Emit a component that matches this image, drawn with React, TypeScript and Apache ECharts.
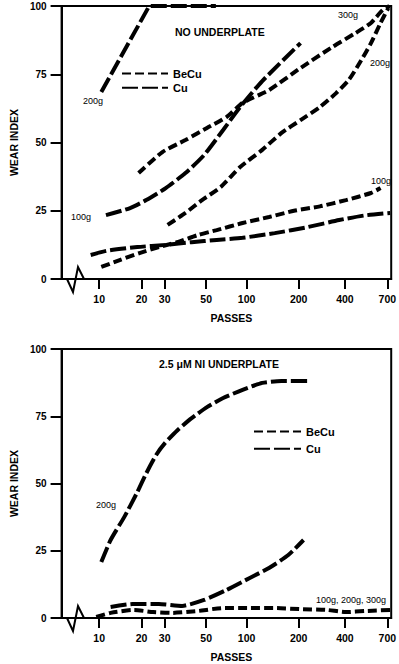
import React, { useEffect, useRef } from "react";
import * as echarts from "echarts";

// x-axis: drawn tick marks (passes) and their place on the drawn scale (scale units)
const TICK_PASSES = [10, 20, 30, 50, 100, 200, 400, 700];
const TICK_SCALE = [39, 83, 107, 150, 192, 246, 294, 338];
const SCALE_MIN = 0;
const SCALE_MAX = 342;
const Y_TICKS = [0, 25, 50, 75, 100];

// ---- top chart: NO UNDERPLATE ----
const TOP_CU_200G_PASSES = [10.5, 23.3, 62];
const TOP_CU_200G_WEAR = [68.5, 100, 100];
const TOP_CU_100G_PASSES = [11.6, 17.3, 22, 30.5, 40, 49, 71, 92, 130, 208];
const TOP_CU_100G_WEAR = [23.4, 26, 28.9, 33.3, 38.8, 45.4, 54.6, 63, 72.5, 86.4];
const TOP_CU_LOW_PASSES = [8, 12, 19, 30.5, 43, 63, 95, 154, 238, 375, 543, 720];
const TOP_CU_LOW_WEAR = [8.8, 10.4, 11.7, 12.5, 13.5, 14.3, 15.1, 16.8, 19, 21.6, 23.3, 24.2];
const TOP_BECU_300G_PASSES = [19.3, 29, 40, 51, 75, 95, 143, 208, 346, 475, 584, 666, 714];
const TOP_BECU_300G_WEAR = [38.8, 46.5, 50.9, 55.3, 59.3, 64.5, 69.2, 77.3, 85, 90.1, 93.8, 98.5, 100];
const TOP_BECU_200G_PASSES = [31.4, 40, 48, 68, 92, 130, 167, 208, 292, 362, 427, 516, 584, 652, 707];
const TOP_BECU_200G_WEAR = [19.8, 24.2, 28.9, 33.7, 41, 47.3, 53.5, 58.2, 63, 68.1, 72.9, 80.2, 86.4, 93.8, 99.3];
const TOP_BECU_100G_PASSES = [10.5, 15, 19.5, 27.5, 36.5, 46, 63, 95, 143, 191, 292, 407, 584, 652];
const TOP_BECU_100G_WEAR = [4.4, 7, 9.5, 11.7, 13.6, 16.1, 17.9, 20.5, 22.7, 25, 26.6, 28.9, 31.5, 33.3];

// ---- bottom chart: 2.5 μM NI UNDERPLATE ----
const BOT_CU_200G_PASSES = [10.5, 12.7, 15.9, 18.9, 22.1, 26.3, 30.2, 36.3, 43, 51, 71, 95, 130, 167, 238];
const BOT_CU_200G_WEAR = [20.8, 29, 37.5, 46.5, 53.9, 60.6, 65.1, 69.9, 74.3, 78.4, 81.8, 84.8, 87.4, 88.1, 88.1];
const BOT_CU_LOW_PASSES = [12.7, 17.9, 27.5, 38.4, 49, 75, 106, 143, 180, 221];
const BOT_CU_LOW_WEAR = [4.1, 5.2, 5.2, 4.5, 6.7, 10.4, 14.9, 18.6, 23.4, 29];
const BOT_BECU_PASSES = [9.3, 12.7, 18.2, 25, 33.7, 46, 71, 106, 154, 208, 321, 406, 543, 720];
const BOT_BECU_WEAR = [0.4, 1.9, 3, 2.2, 1.9, 2.6, 3.7, 3.7, 3.7, 3.3, 3, 2.2, 2.6, 3];

const FONT = '"Liberation Sans", Arial, Helvetica, sans-serif';

function toScale(p: number): number {
  const n = TICK_PASSES.length;
  let i = 0;
  while (i < n - 2 && p > TICK_PASSES[i + 1]) i++;
  const p0 = TICK_PASSES[i], p1 = TICK_PASSES[i + 1];
  const s0 = TICK_SCALE[i], s1 = TICK_SCALE[i + 1];
  return s0 + ((p - p0) / (p1 - p0)) * (s1 - s0);
}

function pairs(ps: number[], ws: number[]) {
  return ps.map((p, i) => [toScale(p), ws[i]]);
}

const BECU_DASH = [9, 4];
const CU_DASH = [16, 4];

function line(name: string, gi: number, ps: number[], ws: number[], smooth: number | boolean = 0.2) {
  return {
    type: "line",
    name,
    xAxisIndex: gi,
    yAxisIndex: gi,
    data: pairs(ps, ws),
    symbol: "none",
    smooth,
    clip: false,
    itemStyle: { color: "#000" },
    lineStyle: {
      color: "#000",
      width: 4,
      type: name === "BeCu" ? BECU_DASH : CU_DASH,
      cap: "butt",
    },
  };
}

export default function App() {
  const ref = useRef<HTMLDivElement>(null);
  useEffect(() => {
    if (!ref.current) return;
    const chart = echarts.init(ref.current, null, { renderer: "svg" });
    const bold = { fontFamily: FONT, fontWeight: "bold", color: "#000" };
    const labelFor = (v: number) => {
      let best = 0;
      TICK_SCALE.forEach((s, i) => {
        if (Math.abs(s - v) < Math.abs(TICK_SCALE[best] - v)) best = i;
      });
      return String(TICK_PASSES[best]);
    };
    const grids = [
      { left: 52, top: 6, width: 342, height: 273 },
      { left: 52, top: 349, width: 342, height: 269 },
    ];
    const axisBase = [279, 618];
    const zig = (y: number) => ({
      type: "group",
      z: 100,
      children: [
        { type: "rect", shape: { x: 66, y: y - 2, width: 18, height: 4 }, style: { fill: "#fff" } },
        {
          type: "polyline",
          shape: { points: [[66, y], [67, y], [73, y + 13], [78, y - 12], [84, y], [85, y]] },
          style: { stroke: "#000", lineWidth: 2, fill: "none" },
        },
      ],
    });
    const note = (text: string, x: number, y: number) => ({
      type: "text",
      x,
      y,
      z: 100,
      style: { text, fill: "#000", font: `9px ${FONT}`, align: "left", verticalAlign: "middle" },
    });
    const legendBase = {
      data: ["BeCu", "Cu"],
      orient: "vertical",
      padding: 0,
      itemHeight: 14,
      selectedMode: false,
      itemStyle: { color: "rgba(0,0,0,0)", borderWidth: 0, opacity: 0 },
      textStyle: { ...bold, fontSize: 11 },
    };
    const option: any = {
      animation: false,
      backgroundColor: "#fff",
      title: [
        { text: "NO UNDERPLATE", left: 175, top: 26, padding: 0, textStyle: { ...bold, fontSize: 10.5 } },
        { text: "2.5 μM NI UNDERPLATE", left: 159, top: 358, padding: 0, textStyle: { ...bold, fontSize: 10.5 } },
      ],
      legend: [
        { ...legendBase, left: 121, top: 68, itemWidth: 46, itemGap: 3 },
        { ...legendBase, left: 253, top: 426, itemWidth: 47, itemGap: 6 },
      ],
      grid: grids.map((g) => ({ ...g, show: true, borderColor: "#000", borderWidth: 2 })),
      xAxis: [0, 1].map((gi) => ({
        type: "value",
        gridIndex: gi,
        min: SCALE_MIN,
        max: SCALE_MAX,
        axisLine: { show: true, lineStyle: { color: "#000", width: 2 } },
        axisTick: { show: true, inside: false, length: 10, customValues: TICK_SCALE, lineStyle: { color: "#000", width: 2 } },
        axisLabel: { customValues: TICK_SCALE, formatter: labelFor, margin: 14, fontSize: 10.5, ...bold },
        splitLine: { show: false },
        name: "PASSES",
        nameLocation: "middle",
        nameGap: 33,
        nameTextStyle: { ...bold, fontSize: 10.5, padding: [0, 0, 0, 10] },
      })),
      yAxis: [0, 1].map((gi) => ({
        type: "value",
        gridIndex: gi,
        min: 0,
        max: 100,
        interval: 25,
        axisLine: { show: true, lineStyle: { color: "#000", width: 2 } },
        axisTick: { show: true, inside: false, length: 11, lineStyle: { color: "#000", width: 2 } },
        axisLabel: { margin: 15, fontSize: 10, ...bold, formatter: (v: number) => (Y_TICKS.includes(v) ? String(v) : "") },
        splitLine: { show: false },
        name: "WEAR INDEX",
        nameLocation: "middle",
        nameRotate: 90,
        nameGap: 38,
        nameTextStyle: { ...bold, fontSize: 10.5 },
      })),
      series: [
        line("Cu", 0, TOP_CU_200G_PASSES, TOP_CU_200G_WEAR, false),
        line("Cu", 0, TOP_CU_100G_PASSES, TOP_CU_100G_WEAR),
        line("Cu", 0, TOP_CU_LOW_PASSES, TOP_CU_LOW_WEAR),
        line("BeCu", 0, TOP_BECU_300G_PASSES, TOP_BECU_300G_WEAR),
        line("BeCu", 0, TOP_BECU_200G_PASSES, TOP_BECU_200G_WEAR),
        line("BeCu", 0, TOP_BECU_100G_PASSES, TOP_BECU_100G_WEAR),
        line("Cu", 1, BOT_CU_200G_PASSES, BOT_CU_200G_WEAR),
        line("Cu", 1, BOT_CU_LOW_PASSES, BOT_CU_LOW_WEAR),
        line("BeCu", 1, BOT_BECU_PASSES, BOT_BECU_WEAR),
      ],
      graphic: [
        zig(axisBase[0]),
        zig(axisBase[1]),
        note("200g", 83, 101),
        note("100g", 71, 217),
        note("300g", 338, 15),
        note("200g", 370, 63),
        note("100g", 371, 181),
        note("200g", 96, 505),
        note("100g, 200g, 300g", 316, 600),
      ],
    };
    chart.setOption(option);
    return () => chart.dispose();
  }, []);
  return <div ref={ref} style={{ position: "absolute", left: 0, top: 0, width: 399, height: 664 }} />;
}
